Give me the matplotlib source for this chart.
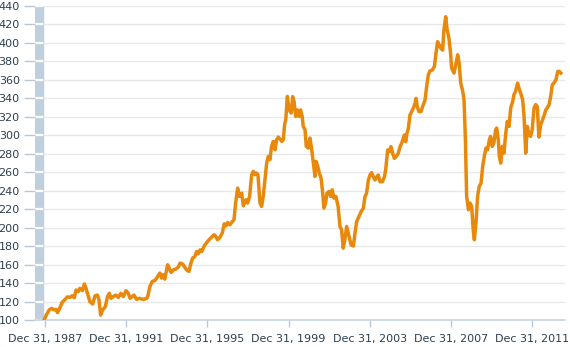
import matplotlib.pyplot as plt
import numpy as np

# Datos (fecha en anos decimales, valor del indice)
anios = [
    1987.95, 1988.08, 1988.21, 1988.33, 1988.44, 1988.54, 1988.62, 1988.70, 1988.84, 1988.99,
    1989.10, 1989.23, 1989.34, 1989.44, 1989.53, 1989.64, 1989.72, 1989.84, 1989.94, 1990.02,
    1990.13, 1990.21, 1990.35, 1990.46, 1990.58, 1990.66, 1990.74, 1990.84, 1990.97, 1991.08,
    1991.17, 1991.25, 1991.36, 1991.49, 1991.61, 1991.74, 1991.86, 1991.99, 1992.10, 1992.19,
    1992.29, 1992.38, 1992.51, 1992.65, 1992.76, 1992.88, 1993.01,
    1993.06, 1993.17, 1993.28, 1993.42, 1993.55, 1993.66, 1993.74, 1993.82, 1993.90, 1994.04,
    1994.12, 1994.21, 1994.33, 1994.44, 1994.57, 1994.65, 1994.76, 1994.86, 1994.97, 1995.09,
    1995.19, 1995.27, 1995.38, 1995.47, 1995.55, 1995.64, 1995.72, 1995.85, 1995.97, 1996.08,
    1996.21, 1996.33, 1996.41, 1996.50, 1996.62, 1996.73, 1996.83, 1996.92, 1997.00, 1997.11,
    1997.23, 1997.31, 1997.39, 1997.49, 1997.57, 1997.69, 1997.77, 1997.90,
    1997.98, 1998.08, 1998.18, 1998.26, 1998.34, 1998.41, 1998.49, 1998.59, 1998.67, 1998.75,
    1998.82, 1998.92, 1999.00, 1999.08, 1999.16, 1999.25, 1999.33, 1999.41, 1999.49, 1999.58,
    1999.66, 1999.74, 1999.80, 1999.86, 1999.94, 2000.02, 2000.13, 2000.20, 2000.27, 2000.35,
    2000.43, 2000.51, 2000.59, 2000.67, 2000.72, 2000.81, 2000.87, 2000.97, 2001.05, 2001.14,
    2001.22, 2001.30, 2001.35, 2001.43, 2001.51, 2001.60, 2001.68, 2001.74, 2001.82, 2001.89,
    2001.99, 2002.07, 2002.15, 2002.23, 2002.33, 2002.44, 2002.53, 2002.61, 2002.69, 2002.77,
    2002.86, 2002.94,
    2002.98, 2003.08, 2003.19, 2003.27, 2003.35, 2003.46, 2003.57, 2003.68, 2003.76, 2003.84,
    2003.93, 2004.01, 2004.09, 2004.17, 2004.26, 2004.34, 2004.42, 2004.50, 2004.62, 2004.72,
    2004.78, 2004.88, 2004.96, 2005.04, 2005.13, 2005.21, 2005.29, 2005.40, 2005.49, 2005.57,
    2005.65, 2005.70, 2005.77, 2005.83, 2005.90, 2005.98, 2006.06, 2006.14, 2006.23, 2006.28,
    2006.34, 2006.42, 2006.52, 2006.60, 2006.72, 2006.80, 2006.88, 2006.96, 2007.08, 2007.18,
    2007.26, 2007.34, 2007.42, 2007.50, 2007.59, 2007.65, 2007.74, 2007.80, 2007.90, 2007.98,
    2008.03, 2008.15, 2008.25, 2008.33, 2008.40, 2008.48, 2008.58, 2008.64, 2008.71, 2008.77,
    2008.86, 2008.94, 2009.02, 2009.10, 2009.15, 2009.23, 2009.31, 2009.39, 2009.48, 2009.56,
    2009.64, 2009.72, 2009.80, 2009.89, 2009.95, 2010.03, 2010.11, 2010.20, 2010.25, 2010.33,
    2010.38, 2010.45, 2010.53, 2010.61, 2010.69, 2010.77, 2010.86, 2010.94, 2011.04, 2011.10,
    2011.18, 2011.28, 2011.35, 2011.43, 2011.53, 2011.60, 2011.68, 2011.76, 2011.84, 2011.92,
    2012.00, 2012.09, 2012.17, 2012.25, 2012.33, 2012.42, 2012.51, 2012.60, 2012.67, 2012.74,
    2012.83, 2012.91, 2012.99, 2013.07, 2013.17, 2013.26, 2013.33, 2013.41,
]
valores = [
    100.0, 106.0, 111.0, 112.6, 111.0, 111.5, 108.0, 111.5, 118.8, 122.4,
    125.0, 124.5, 126.3, 124.0, 132.5, 130.7, 134.3, 131.8, 139.0, 134.3,
    126.0, 119.9, 117.3, 126.0, 127.0, 121.7, 105.4, 110.8, 114.4, 125.3,
    128.9, 123.5, 125.3, 127.0, 124.5, 128.9, 125.3, 131.8, 128.9, 123.5,
    125.3, 127.0, 122.4, 123.5, 122.7, 122.4, 123.5,
    125.5, 136.3, 141.7, 142.8, 147.1, 150.8, 145.4, 149.0, 144.3, 159.8,
    156.2, 151.5, 154.4, 155.1, 157.3, 161.6, 160.9, 158.0, 154.4, 152.6,
    161.6, 167.0, 168.8, 174.2, 171.7, 176.0, 174.2, 180.4, 184.0, 186.9,
    189.7, 192.3, 190.5, 186.9, 189.7, 194.1, 204.2, 202.0, 205.6, 203.1,
    206.7, 208.5, 226.6, 242.8, 233.8, 237.4, 223.7, 230.2,
    226.6, 233.8, 257.3, 260.9, 257.3, 259.1, 257.3, 226.6, 223.0, 233.8,
    248.3, 269.9, 277.1, 273.5, 288.0, 293.4, 284.3, 295.2, 298.1, 295.9,
    293.4, 295.2, 311.4, 316.8, 342.1, 327.7, 324.1, 341.9, 336.5, 320.3,
    327.5, 320.4, 327.5, 320.4, 309.6, 306.0, 288.0, 286.1, 297.0, 284.3,
    269.9, 255.5, 271.7, 267.0, 259.1, 253.6, 237.4, 221.2, 226.6, 237.4,
    239.2, 233.8, 241.0, 232.0, 233.8, 223.0, 201.3, 197.7, 177.8, 186.9,
    201.3, 194.1,
    190.2, 181.2, 180.1, 193.8, 206.4, 211.8, 217.3, 220.9, 233.5, 237.1,
    251.6, 257.0, 259.5, 255.2, 251.6, 255.2, 257.0, 249.7, 249.7, 255.2,
    262.4, 284.0, 282.3, 287.7, 280.4, 275.0, 276.8, 280.4, 287.7, 291.3,
    296.7, 300.3, 293.1, 302.1, 307.5, 322.0, 325.6, 329.2, 334.6, 340.0,
    331.0, 325.6, 325.6, 331.0, 338.2, 352.6, 365.3, 369.6, 370.7, 374.3,
    388.7, 401.4, 397.8, 394.2, 392.3, 414.0, 428.4, 415.8, 404.9, 388.7,
    372.8, 367.4, 378.2, 387.2, 378.2, 356.5, 347.5, 338.5, 295.2, 233.8,
    219.4, 226.6, 223.0, 195.9, 186.9, 204.9, 233.8, 244.6, 248.2, 266.3,
    277.1, 286.1, 284.3, 295.2, 298.8, 288.0, 291.6, 306.0, 307.8, 295.2,
    277.1, 269.9, 288.0, 280.7, 300.6, 315.0, 309.6, 329.5, 336.7, 343.9,
    347.5, 356.5, 351.1, 345.7, 338.5, 320.4, 280.7, 309.6, 300.6, 298.8,
    306.0, 329.5, 333.2, 331.3, 298.1, 311.4, 316.8, 322.2, 327.6, 329.5,
    333.2, 342.1, 354.7, 356.5, 360.1, 369.2, 369.2, 367.4,
]

# Etiquetas del eje x
anios_ticks = [1988, 1992, 1996, 2000, 2004, 2008, 2012]
etiquetas_x = ["Dec 31, 1987", "Dec 31, 1991", "Dec 31, 1995", "Dec 31, 1999",
               "Dec 31, 2003", "Dec 31, 2007", "Dec 31, 2011"]
ticks_y = list(range(100, 441, 20))

# Grafica
fig = plt.figure(figsize=(5.70, 3.47), dpi=100)
ax = fig.add_axes([35 / 570, 27 / 347, 530 / 570, 314 / 347])

x_min = 1988 - 10 / 20.3
x_max = 1988 + 520 / 20.3
ax.set_xlim(x_min, x_max)
ax.set_ylim(100, 440)

# Barra del eje y
ancho_barra = 8 / 20.3
ax.axvspan(x_min, x_min + ancho_barra, color="#bfcfde", zorder=0)
ax.hlines(ticks_y, x_min, x_min + ancho_barra, color="white", linewidth=1.6, zorder=1)
ax.hlines(ticks_y, x_min + ancho_barra, x_max, color="#e8e8e8", linewidth=1, zorder=1)

ax.plot(anios, valores, color="#e8890c", linewidth=2.5, zorder=3, solid_joinstyle="round")

for lado in ["top", "right", "left"]:
    ax.spines[lado].set_visible(False)
ax.spines["bottom"].set_color("#c5d3e0")
ax.spines["bottom"].set_linewidth(1.2)

ax.set_yticks(ticks_y)
ax.set_xticks(anios_ticks)
ax.set_xticklabels(etiquetas_x)
ax.tick_params(axis="y", length=8, width=1, color="#b8c8d8", pad=3,
               labelsize=8, labelcolor="#2e3f4f")
ax.tick_params(axis="x", length=5, width=1, color="#b8c8d8", pad=5,
               labelsize=8, labelcolor="#2e3f4f")

fig.savefig("out.png", dpi=100)
